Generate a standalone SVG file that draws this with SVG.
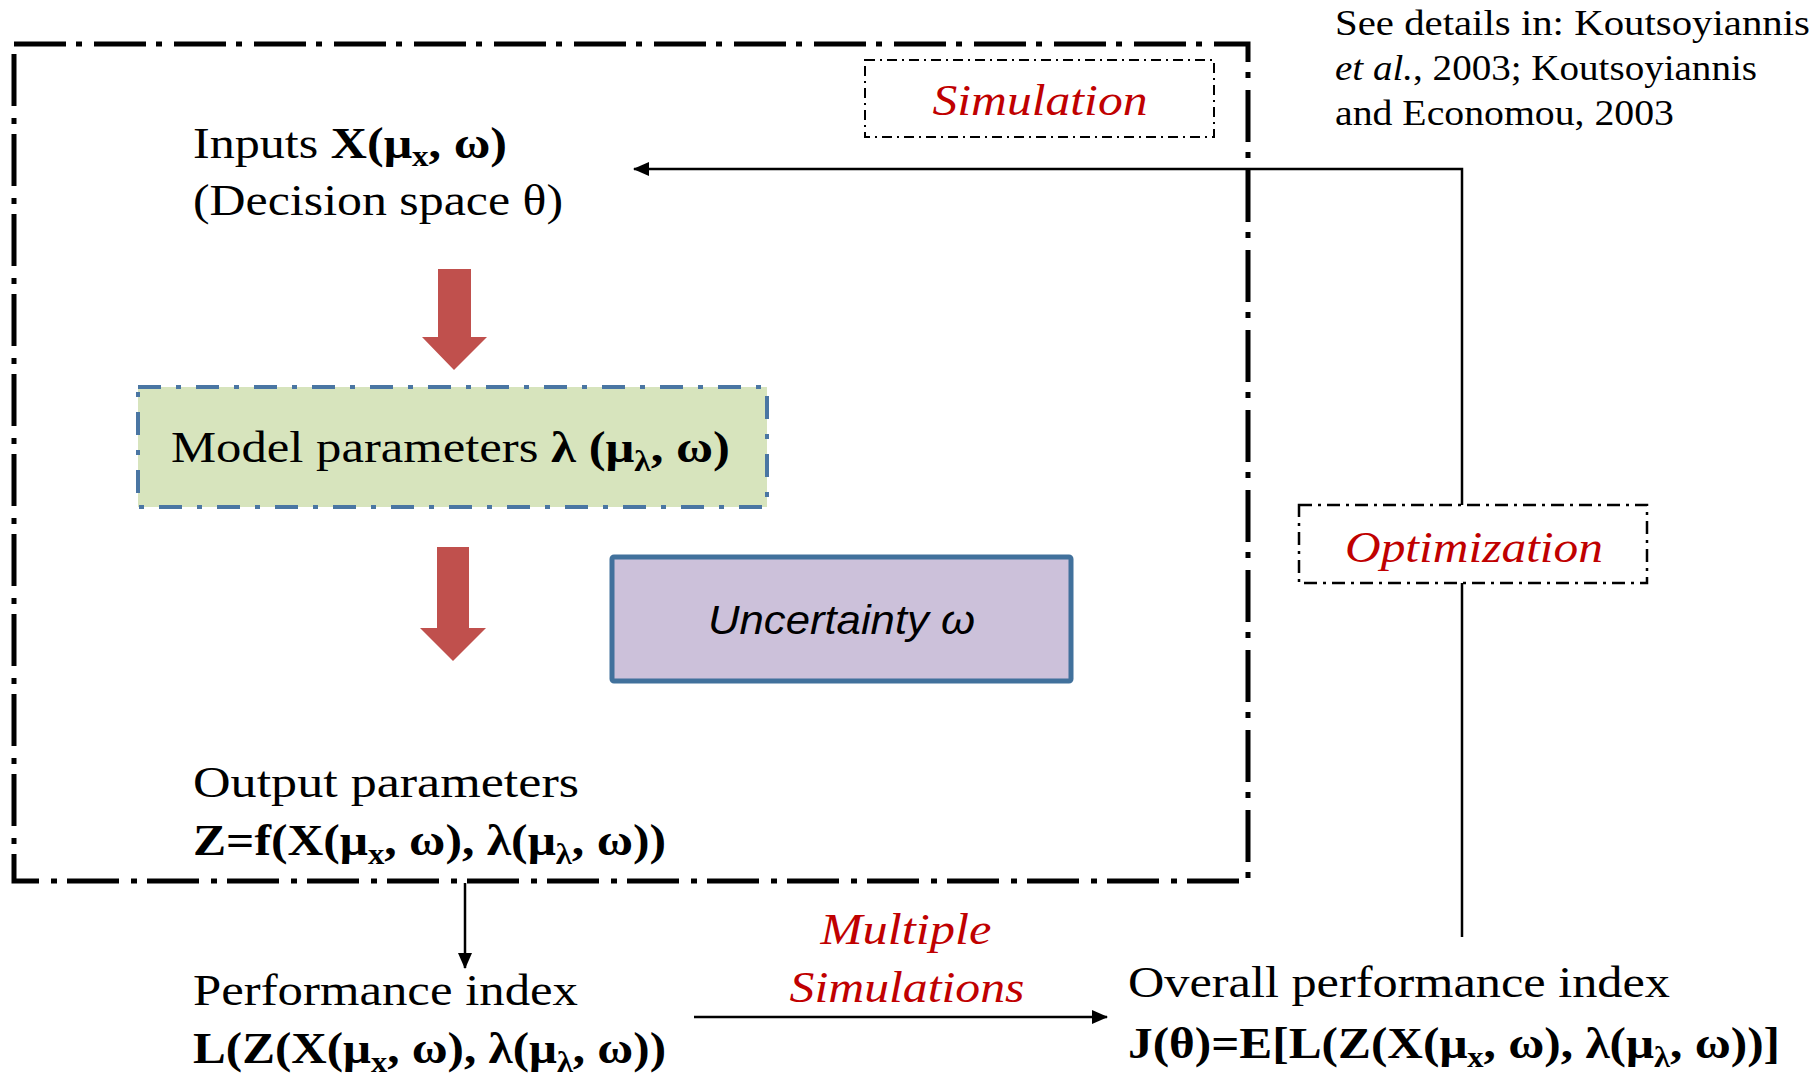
<svg xmlns="http://www.w3.org/2000/svg" width="1818" height="1075" viewBox="0 0 1818 1075">
<style>
.t{font-family:"Liberation Serif","Times New Roman",serif;font-size:44px;fill:#000}
.b{font-weight:bold}
.red{font-family:"Liberation Serif","Times New Roman",serif;font-style:italic;font-size:45px;fill:#c00000}
.note{font-family:"Liberation Serif","Times New Roman",serif;font-size:36px;fill:#000}
.conn{fill:none;stroke:#000;stroke-width:2.5}
.blk{fill:#c0504d}
</style>
<defs>
<marker id="ah" viewBox="0 0 16 14" refX="15" refY="7" markerWidth="16" markerHeight="14" markerUnits="userSpaceOnUse" orient="auto">
<path d="M0,0 L16,7 L0,14 z" fill="#000"/>
</marker>
</defs>
<rect width="1818" height="1075" fill="#fff"/>

<g id="simulation-frame">
<rect x="14" y="44" width="1234" height="837" fill="none" stroke="#000" stroke-width="5" stroke-dasharray="52 10 6 12"/>
</g>

<g id="connectors">
<polyline class="conn" points="1462,937 1462,169 634,169" marker-end="url(#ah)"/>
<line class="conn" x1="465" y1="883" x2="465" y2="968" stroke-width="2" marker-end="url(#ah)"/>
<line class="conn" x1="694" y1="1017" x2="1107" y2="1017" marker-end="url(#ah)"/>
<path class="blk" d="M438,269 H471 V337 H487 L454,370 L422,337 H438 Z"/>
<path class="blk" d="M437,547 H469 V628 H486 L453,661 L420,628 H437 Z"/>
</g>

<g id="simulation-label">
<rect x="865" y="60" width="349" height="77" fill="#fff" stroke="#000" stroke-width="2" stroke-dasharray="10 5 2 5"/>
<text class="red" x="1040" y="115" text-anchor="middle" textLength="215" lengthAdjust="spacingAndGlyphs">Simulation</text>
</g>

<g id="note">
<text class="note" x="1335" y="35" textLength="475" lengthAdjust="spacingAndGlyphs">See details in: Koutsoyiannis</text>
<text class="note" x="1335" y="80" textLength="422" lengthAdjust="spacingAndGlyphs"><tspan font-style="italic">et al.</tspan>, 2003; Koutsoyiannis</text>
<text class="note" x="1335" y="125" textLength="339" lengthAdjust="spacingAndGlyphs">and Economou, 2003</text>
</g>

<g id="inputs">
<text class="t" x="193" y="158" textLength="314" lengthAdjust="spacingAndGlyphs">Inputs <tspan class="b">X(μ</tspan><tspan class="b" font-size="29" dy="8">x</tspan><tspan class="b" dy="-8">, ω)</tspan></text>
<text class="t" x="193" y="215" textLength="370" lengthAdjust="spacingAndGlyphs">(Decision space θ)</text>
</g>

<g id="model-parameters">
<rect x="138" y="387" width="629" height="120" fill="#d7e4bd" stroke="#4a76a3" stroke-width="4" stroke-dasharray="23 15 5 15"/>
<text class="t" x="171" y="462" textLength="559" lengthAdjust="spacingAndGlyphs">Model parameters <tspan class="b">λ (μ</tspan><tspan class="b" font-size="29" dy="9">λ</tspan><tspan class="b" dy="-9">, ω)</tspan></text>
</g>

<g id="uncertainty">
<rect x="612" y="557" width="459" height="124" rx="2" fill="#ccc1da" stroke="#41719c" stroke-width="5"/>
<text x="841.5" y="634" text-anchor="middle" font-family="'Liberation Sans',Arial,sans-serif" font-style="italic" font-size="40" textLength="267" lengthAdjust="spacingAndGlyphs">Uncertainty ω</text>
</g>

<g id="output-parameters">
<text class="t" x="193" y="797" textLength="386" lengthAdjust="spacingAndGlyphs">Output parameters</text>
<text class="t b" x="193" y="855" textLength="473" lengthAdjust="spacingAndGlyphs">Z=f(X(μ<tspan font-size="29" dy="9">x</tspan><tspan dy="-9">, ω), λ(μ</tspan><tspan font-size="29" dy="9">λ</tspan><tspan dy="-9">, ω))</tspan></text>
</g>

<g id="performance-index">
<text class="t" x="193" y="1005" textLength="385" lengthAdjust="spacingAndGlyphs">Performance index</text>
<text class="t b" x="193" y="1063" textLength="473" lengthAdjust="spacingAndGlyphs">L(Z(X(μ<tspan font-size="29" dy="9">x</tspan><tspan dy="-9">, ω), λ(μ</tspan><tspan font-size="29" dy="9">λ</tspan><tspan dy="-9">, ω))</tspan></text>
</g>

<g id="multiple-simulations">
<text class="red" x="906" y="944" text-anchor="middle" textLength="171" lengthAdjust="spacingAndGlyphs">Multiple</text>
<text class="red" x="907" y="1002" text-anchor="middle" textLength="235" lengthAdjust="spacingAndGlyphs">Simulations</text>
</g>

<g id="overall-performance-index">
<text class="t" x="1128" y="997" textLength="542" lengthAdjust="spacingAndGlyphs">Overall performance index</text>
<text class="t b" x="1128" y="1058" textLength="652" lengthAdjust="spacingAndGlyphs">J(θ)=E[L(Z(X(μ<tspan font-size="29" dy="9">x</tspan><tspan dy="-9">, ω), λ(μ</tspan><tspan font-size="29" dy="9">λ</tspan><tspan dy="-9">, ω))]</tspan></text>
</g>

<g id="optimization">
<rect x="1299" y="505" width="348" height="78" fill="#fff" stroke="#000" stroke-width="2.5" stroke-dasharray="13 6 3 6"/>
<text class="red" x="1474" y="562" text-anchor="middle" textLength="258" lengthAdjust="spacingAndGlyphs">Optimization</text>
</g>
</svg>
